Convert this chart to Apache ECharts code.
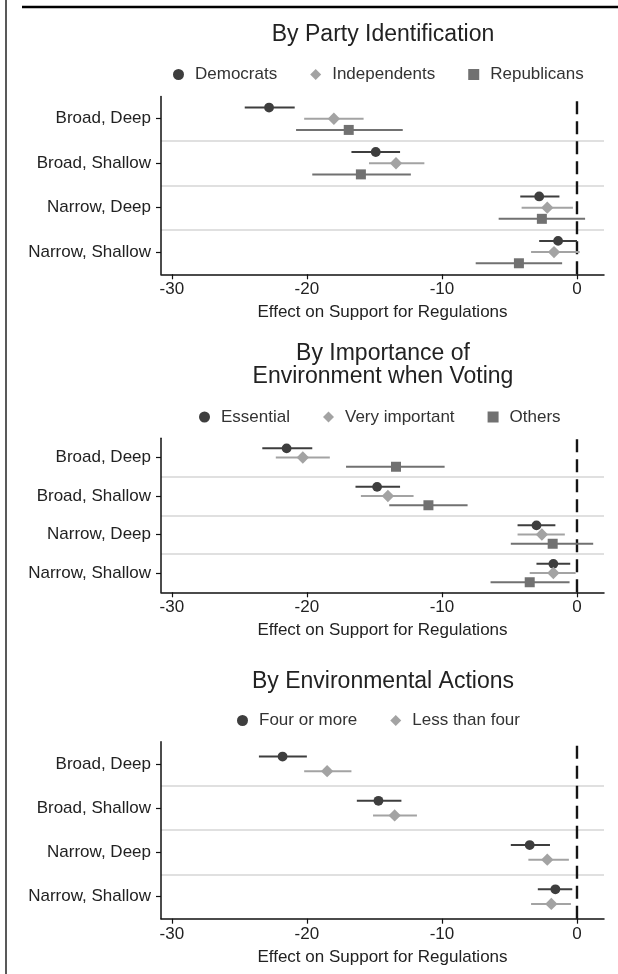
<!DOCTYPE html>
<html>
<head>
<meta charset="utf-8">
<script src="https://cdn.jsdelivr.net/npm/echarts@6/dist/echarts.min.js"></script>
<style>
  html, body { margin: 0; padding: 0; background: #fff; }
  #chart { width: 618px; height: 974px; }
</style>
</head>
<body>
<div id="chart"></div>
<script>
// ---------- data ----------
const categories = ['Broad, Deep', 'Broad, Shallow', 'Narrow, Deep', 'Narrow, Shallow'];
const xTickValues = [-30, -20, -10, 0];
const referenceValue = 0;

// Panel 1: By Party Identification
const democratsEst = [-22.8, -14.9, -2.8, -1.4];
const democratsLo  = [-24.6, -16.7, -4.2, -2.8];
const democratsHi  = [-20.9, -13.1, -1.3, 0.0];
const independentsEst = [-18.0, -13.4, -2.2, -1.7];
const independentsLo  = [-20.2, -15.4, -4.1, -3.4];
const independentsHi  = [-15.8, -11.3, -0.3, 0.2];
const republicansEst = [-16.9, -16.0, -2.6, -4.3];
const republicansLo  = [-20.8, -19.6, -5.8, -7.5];
const republicansHi  = [-12.9, -12.3, 0.6, -1.1];

// Panel 2: By Importance of Environment when Voting
const essentialEst = [-21.5, -14.8, -3.0, -1.75];
const essentialLo  = [-23.3, -16.4, -4.4, -3.0];
const essentialHi  = [-19.6, -13.1, -1.6, -0.5];
const veryImportantEst = [-20.3, -14.0, -2.6, -1.75];
const veryImportantLo  = [-22.3, -16.0, -4.4, -3.5];
const veryImportantHi  = [-18.3, -12.1, -0.9, -0.1];
const othersEst = [-13.4, -11.0, -1.8, -3.5];
const othersLo  = [-17.1, -13.9, -4.9, -6.4];
const othersHi  = [-9.8, -8.1, 1.2, -0.55];

// Panel 3: By Environmental Actions
const fourOrMoreEst = [-21.8, -14.7, -3.5, -1.6];
const fourOrMoreLo  = [-23.55, -16.3, -4.9, -2.9];
const fourOrMoreHi  = [-20.0, -13.0, -2.0, -0.35];
const lessThanFourEst = [-18.5, -13.5, -2.2, -1.9];
const lessThanFourLo  = [-20.2, -15.1, -3.6, -3.4];
const lessThanFourHi  = [-16.7, -11.85, -0.6, -0.45];

// ---------- styling ----------
const FONT = "'Liberation Sans', Arial, sans-serif";
const DARK = '#3e3e3e', LIGHT = '#a3a3a3', MID = '#717171';
const TXT = '#222';

const panels = [
  {
    title: ['By Party Identification'], titleY: 35,
    top: 96.5, height: 177.8, legendLeft: 173, legendTop: 66, spacing: 11.2,
    series: [
      { name: 'Democrats', est: democratsEst, lo: democratsLo, hi: democratsHi, color: DARK, shape: 'circle' },
      { name: 'Independents', est: independentsEst, lo: independentsLo, hi: independentsHi, color: LIGHT, shape: 'diamond' },
      { name: 'Republicans', est: republicansEst, lo: republicansLo, hi: republicansHi, color: MID, shape: 'rect' }
    ]
  },
  {
    title: ['By Importance of', 'Environment when Voting'], titleY: 353.5,
    top: 438.3, height: 154, legendLeft: 199, legendTop: 408.5, spacing: 9.2,
    series: [
      { name: 'Essential', est: essentialEst, lo: essentialLo, hi: essentialHi, color: DARK, shape: 'circle' },
      { name: 'Very important', est: veryImportantEst, lo: veryImportantLo, hi: veryImportantHi, color: LIGHT, shape: 'diamond' },
      { name: 'Others', est: othersEst, lo: othersLo, hi: othersHi, color: MID, shape: 'rect' }
    ]
  },
  {
    title: ['By Environmental Actions'], titleY: 681.5,
    top: 741.7, height: 177, legendLeft: 237, legendTop: 712, spacing: 14.6,
    series: [
      { name: 'Four or more', est: fourOrMoreEst, lo: fourOrMoreLo, hi: fourOrMoreHi, color: DARK, shape: 'circle' },
      { name: 'Less than four', est: lessThanFourEst, lo: lessThanFourLo, hi: lessThanFourHi, color: LIGHT, shape: 'diamond' }
    ]
  }
];

function markerShape(shape, x, y, color) {
  if (shape === 'circle') {
    return { type: 'circle', shape: { cx: x, cy: y, r: 4.9 }, style: { fill: color } };
  }
  if (shape === 'diamond') {
    const s = 6.2;
    return { type: 'polygon', shape: { points: [[x, y - s], [x + s, y], [x, y + s], [x - s, y]] }, style: { fill: color } };
  }
  const h = 5;
  return { type: 'rect', shape: { x: x - h, y: y - h, width: 2 * h, height: 2 * h }, style: { fill: color } };
}

function errorBarRender(offset, color, shape) {
  return function (params, api) {
    const cat = api.value(0);
    const c = api.coord([api.value(1), cat]);
    const l = api.coord([api.value(2), cat]);
    const h = api.coord([api.value(3), cat]);
    const y = c[1] + offset;
    return {
      type: 'group',
      children: [
        { type: 'line', shape: { x1: l[0], y1: y, x2: h[0], y2: y }, style: { stroke: color, lineWidth: 2 } },
        markerShape(shape, c[0], y, color)
      ]
    };
  };
}

function zeroLineRender(params, api) {
  const p = api.coord([api.value(0), api.value(1)]);
  const cs = params.coordSys;
  return {
    type: 'line',
    shape: { x1: p[0], y1: cs.y + cs.height, x2: p[0], y2: cs.y },
    style: { stroke: '#151515', lineWidth: 2.4, lineDash: [13, 7] }
  };
}

const grid = [], xAxis = [], yAxis = [], series = [], legend = [], graphic = [];

panels.forEach((p, gi) => {
  grid.push({ left: 161, right: 14, top: p.top, height: p.height, containLabel: false });
  xAxis.push({
    type: 'value', gridIndex: gi, min: -30.8, max: 2,
    name: 'Effect on Support for Regulations', nameLocation: 'middle', nameGap: 30,
    nameTextStyle: { fontFamily: FONT, fontSize: 17, color: TXT },
    axisLine: { show: true, onZero: false, lineStyle: { color: '#111', width: 1.5 } },
    axisTick: { show: true, customValues: xTickValues, length: 5, lineStyle: { color: '#111', width: 1.2 } },
    axisLabel: { customValues: xTickValues, fontFamily: FONT, fontSize: 17, color: TXT, margin: 7 },
    splitLine: { show: false }
  });
  yAxis.push({
    type: 'category', gridIndex: gi, data: categories, inverse: true,
    axisLine: { show: true, onZero: false, lineStyle: { color: '#111', width: 1.5 } },
    axisTick: { show: true, alignWithLabel: true, interval: 0, length: 5, lineStyle: { color: '#111', width: 1.2 } },
    axisLabel: { interval: 0, fontFamily: FONT, fontSize: 17, color: TXT, margin: 10 },
    splitLine: { show: true, interval: 0, showMinLine: false, showMaxLine: false, lineStyle: { color: '#e0e0e0', width: 2 } }
  });

  const n = p.series.length;
  p.series.forEach((s, k) => {
    const offset = (k - (n - 1) / 2) * p.spacing;
    series.push({
      type: 'custom', name: s.name, xAxisIndex: gi, yAxisIndex: gi,
      itemStyle: { color: s.color },
      encode: { y: 0, x: [1, 2, 3] },
      data: categories.map((c, i) => [i, s.est[i], s.lo[i], s.hi[i]]),
      renderItem: errorBarRender(offset, s.color, s.shape),
      silent: true, z: 3
    });
  });
  series.push({
    type: 'custom', name: 'zero' + gi, xAxisIndex: gi, yAxisIndex: gi,
    encode: { x: 0, y: 1 },
    data: [[referenceValue, 0]],
    renderItem: zeroLineRender, silent: true, z: 2
  });

  legend.push({
    left: p.legendLeft, top: p.legendTop, orient: 'horizontal',
    padding: 0, itemGap: 33, itemWidth: 11, itemHeight: 11,
    selectedMode: false,
    data: p.series.map(s => ({ name: s.name, icon: s.shape, itemStyle: { color: s.color } })),
    formatter: '{t|{name}}',
    textStyle: {
      fontFamily: FONT, fontSize: 17, color: '#333',
      rich: { t: { fontFamily: FONT, fontSize: 17, color: '#333', padding: [0, 0, 0, 6] } }
    }
  });

  p.title.forEach((line, li) => {
    graphic.push({
      type: 'text', x: 383, y: p.titleY + li * 23.5,
      style: { text: line, font: '23px ' + FONT, fill: '#222', textAlign: 'center', textVerticalAlign: 'middle' }
    });
  });
});

// frame lines
graphic.push({ type: 'line', shape: { x1: 22, y1: 7, x2: 618, y2: 7 }, style: { stroke: '#000', lineWidth: 2.5 } });
graphic.push({ type: 'line', shape: { x1: 6, y1: 0, x2: 6, y2: 974 }, style: { stroke: '#222', lineWidth: 1.5 } });

const chart = echarts.init(document.getElementById('chart'));
chart.setOption({
  animation: false,
  backgroundColor: '#fff',
  grid, xAxis, yAxis, series, legend, graphic
});
</script>
</body>
</html>
